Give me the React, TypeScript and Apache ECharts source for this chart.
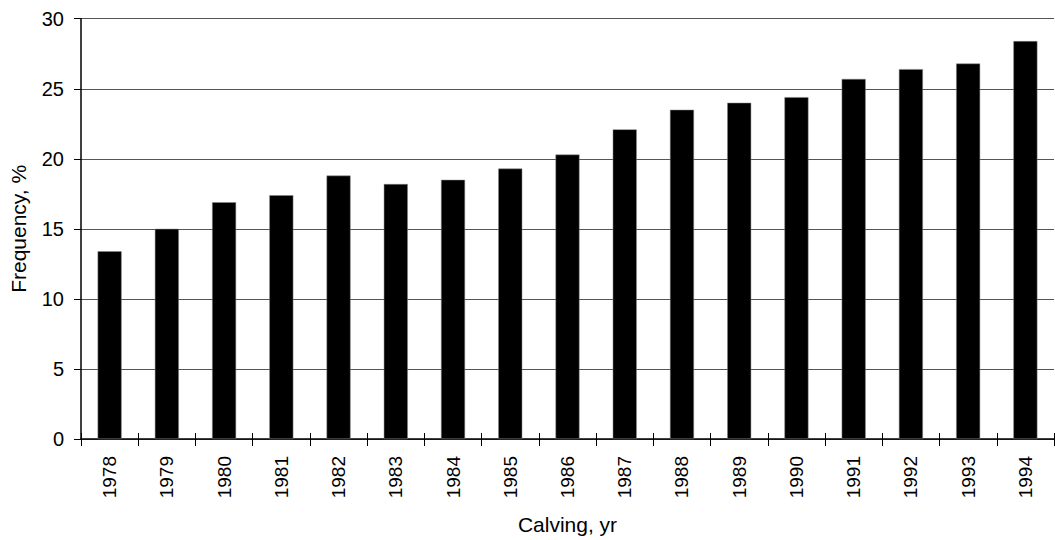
import React, { useEffect, useRef } from "react";
import * as echarts from "echarts";

const years = ["1978","1979","1980","1981","1982","1983","1984","1985","1986","1987","1988","1989","1990","1991","1992","1993","1994"];
const frequency = [13.4, 15.0, 16.9, 17.4, 18.8, 18.2, 18.5, 19.3, 20.3, 22.1, 23.5, 24.0, 24.4, 25.7, 26.4, 26.8, 28.4];
const yTicks = { min: 0, max: 30, interval: 5 };

export default function App() {
  const ref = useRef<HTMLDivElement>(null);
  useEffect(() => {
    if (!ref.current) return;
    const chart = echarts.init(ref.current, null, { renderer: "svg" });
    const font = "'Liberation Sans', Arial, Helvetica, sans-serif";
    chart.setOption({
      animation: false,
      backgroundColor: "#ffffff",
      grid: { left: 80, right: 1, top: 18.7, bottom: 96, containLabel: false },
      xAxis: [
        {
          type: "category",
          data: years,
          name: "Calving, yr",
          nameLocation: "middle",
          nameGap: 75,
          nameTextStyle: { fontFamily: font, fontSize: 21, color: "#000" },
          axisLine: { show: true, lineStyle: { color: "#000", width: 1.5 } },
          axisTick: { show: true, alignWithLabel: false, length: 7, lineStyle: { color: "#000", width: 1 } },
          axisLabel: { rotate: 90, margin: 17, fontFamily: font, fontSize: 19, color: "#000" },
          splitLine: { show: false },
        },
        {
          type: "category",
          data: years,
          position: "bottom",
          axisLine: { show: false },
          axisTick: { show: true, inside: true, length: 6, lineStyle: { color: "#000", width: 1 } },
          axisLabel: { show: false },
          splitLine: { show: false },
        },
      ],
      yAxis: {
        type: "value",
        min: yTicks.min,
        max: yTicks.max,
        interval: yTicks.interval,
        name: "Frequency, %",
        nameLocation: "middle",
        nameGap: 52,
        nameTextStyle: { fontFamily: font, fontSize: 21, color: "#000" },
        axisLine: { show: true, lineStyle: { color: "#000", width: 1.5 } },
        axisTick: { show: true, length: 7, lineStyle: { color: "#000", width: 1 } },
        axisLabel: { margin: 17, fontFamily: font, fontSize: 20, color: "#000" },
        splitLine: { show: true, lineStyle: { color: "#555", width: 1 } },
      },
      series: [
        {
          type: "bar",
          data: frequency,
          xAxisIndex: 0,
          barWidth: 24,
          itemStyle: { color: "#000", borderColor: "#888", borderWidth: 0.5 },
        },
      ],
    });
    return () => chart.dispose();
  }, []);
  return <div ref={ref} style={{ position: "fixed", left: 0, top: 0, width: 1055, height: 540 }} />;
}
